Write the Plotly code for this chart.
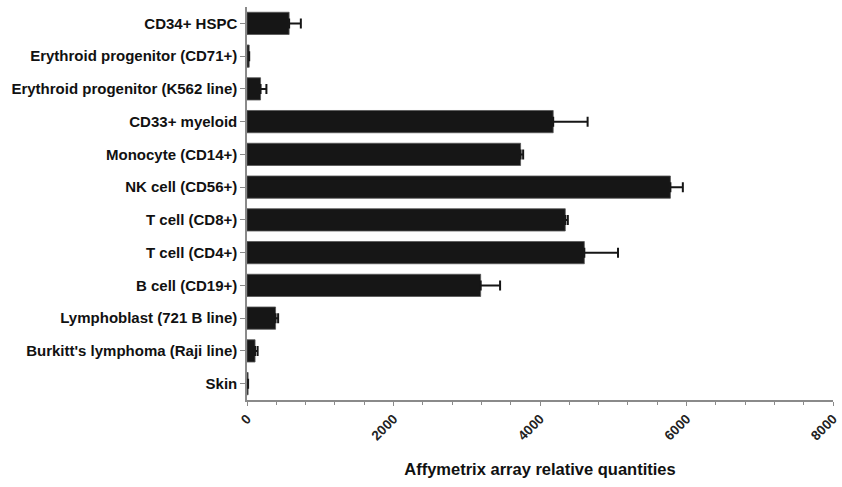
import plotly.graph_objects as go

categories = [
    "CD34+ HSPC",
    "Erythroid progenitor (CD71+)",
    "Erythroid progenitor (K562 line)",
    "CD33+ myeloid",
    "Monocyte (CD14+)",
    "NK cell (CD56+)",
    "T cell (CD8+)",
    "T cell (CD4+)",
    "B cell (CD19+)",
    "Lymphoblast (721 B line)",
    "Burkitt's lymphoma (Raji line)",
    "Skin",
]
values = [575, 30, 185, 4180, 3735, 5780, 4345, 4605, 3190, 390, 110, 15]
errors = [160, 0, 80, 470, 35, 170, 35, 460, 265, 35, 35, 0]
x_ticks = [0, 2000, 4000, 6000, 8000]

FONT = "Liberation Sans, Arial, sans-serif"

fig = go.Figure(
    go.Bar(
        x=values,
        y=categories,
        orientation="h",
        marker=dict(color="#161616", line=dict(color="#555555", width=0.8)),
        error_x=dict(
            type="data",
            array=errors,
            arrayminus=[0] * len(errors),
            symmetric=False,
            color="#161616",
            thickness=2,
            width=5,
        ),
        width=0.68,
    )
)

fig.update_layout(
    width=842,
    height=487,
    margin=dict(l=247, r=9, t=7, b=87),
    paper_bgcolor="white",
    plot_bgcolor="white",
    showlegend=False,
    font=dict(family=FONT, color="#111111"),
)

fig.update_yaxes(
    automargin=False,
    categoryorder="array",
    categoryarray=categories,
    autorange=False,
    range=[11.5, -0.5],
    showline=True,
    linecolor="#8a8a8a",
    linewidth=1.5,
    ticks="outside",
    ticklen=5,
    tickcolor="#8a8a8a",
    tickfont=dict(family=FONT, size=15, color="#111111", weight="bold"),
    showgrid=False,
    zeroline=False,
)

fig.update_xaxes(
    automargin=False,
    range=[0, 8000],
    tickmode="array",
    tickvals=x_ticks,
    ticktext=[str(t) for t in x_ticks],
    tickangle=-45,
    ticklabeloverflow="allow",
    showline=True,
    linecolor="#8a8a8a",
    linewidth=1.5,
    ticks="outside",
    ticklen=4,
    tickcolor="#8a8a8a",
    minor=dict(dtick=400, ticks="outside", ticklen=3, tickcolor="#8a8a8a", showgrid=False),
    tickfont=dict(family=FONT, size=13.5, color="#222222", weight="bold"),
    showgrid=False,
    zeroline=False,
    title=dict(
        text="Affymetrix array relative quantities",
        font=dict(family=FONT, size=16.5, color="#111111", weight="bold"),
        standoff=21,
    ),
)

fig.write_html(
    "out.html",
    config={"displayModeBar": False},
    post_script="document.body.style.margin='0';document.body.style.overflow='hidden';",
)
